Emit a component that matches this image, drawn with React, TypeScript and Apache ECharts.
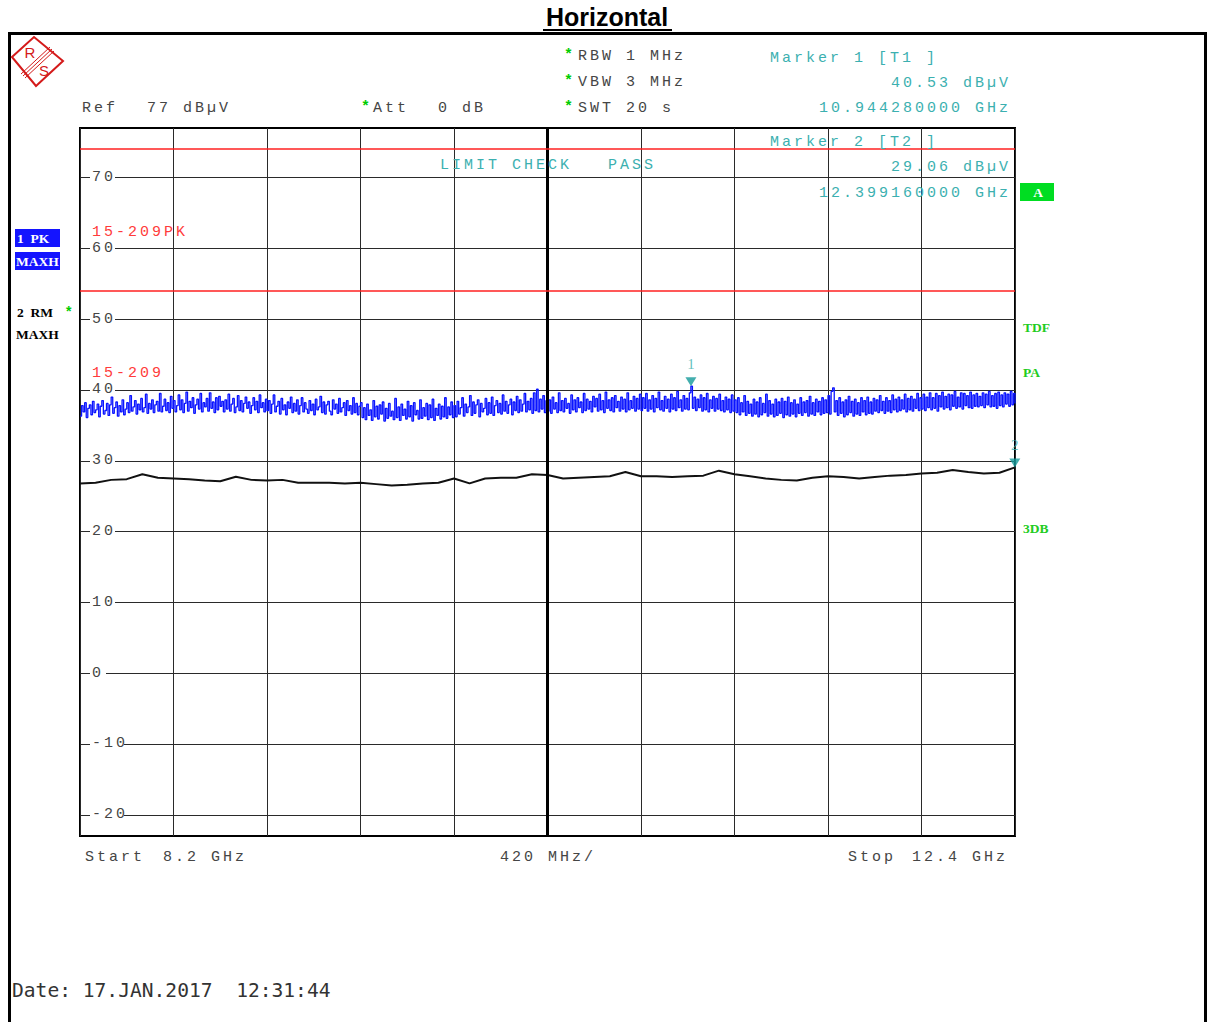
import React, { useEffect, useRef } from "react";
import * as echarts from "echarts";

// ---- data ----
const START_GHZ = 8.2;
const STOP_GHZ = 12.4;
const Y_MIN = -23; // bottom of screen (Ref 77 dBµV, 10 dB/div)
const Y_MAX = 77;
const yTickValues = [70, 60, 50, 40, 30, 20, 10, 0, -10, -20];
const xGridValues = [8.2, 8.62, 9.04, 9.46, 9.88, 10.3, 10.72, 11.14, 11.56, 11.98, 12.4];
const centerFreq = 10.3;
const limitPK = 74; // 15-209PK
const limitAV = 54; // 15-209

// trace 1 (PK, MAXH) - sweep points, per division
const t1Div0 = [36.3, 37.8, 36.9, 38.2, 36.1, 37.4, 37.9, 36.5, 38.4, 36.8, 37.2, 38.0, 36.2, 37.7, 38.5, 36.6, 37.1, 38.1, 36.4, 37.9, 39.0, 36.7, 37.5, 38.3, 36.3, 37.8, 36.9, 38.6, 36.5, 37.3,
  38.2, 36.8, 39.2, 37.0, 37.6, 38.5, 36.6, 38.0, 37.2, 38.8, 36.9, 37.5, 39.4, 36.7, 38.1, 37.3, 38.6, 36.8, 37.9, 38.4, 37.0, 39.5, 36.9, 37.7, 38.7, 37.1, 38.2, 36.8, 39.1, 37.4];
const t1Div1 = [38.5, 36.9, 37.8, 39.3, 37.2, 38.6, 36.8, 38.1, 39.7, 37.0, 38.4, 37.5, 38.9, 36.7, 37.9, 38.7, 37.3, 39.5, 36.9, 38.2, 37.6, 38.8, 37.0, 39.6, 37.4, 38.3, 36.8, 38.9, 37.2, 39.1,
  37.7, 38.4, 36.9, 38.6, 37.3, 39.4, 37.0, 38.0, 38.8, 36.8, 37.6, 39.2, 37.1, 38.5, 36.9, 38.1, 39.0, 37.4, 38.3, 36.7, 37.8, 38.9, 37.2, 38.4, 36.8, 39.3, 37.5, 38.2, 36.9, 38.7];
const t1Div2 = [37.1, 38.5, 36.7, 38.0, 39.3, 36.9, 37.7, 38.4, 36.6, 38.8, 37.2, 37.9, 36.5, 38.3, 37.4, 39.0, 36.8, 38.1, 37.0, 38.6, 36.6, 37.8, 38.9, 36.9, 38.2, 37.3, 36.7, 38.5, 37.1, 38.0,
  36.5, 38.7, 37.2, 37.6, 39.1, 36.8, 38.3, 36.6, 37.9, 38.4, 37.0, 36.5, 38.6, 37.3, 38.0, 36.7, 38.8, 36.9, 37.5, 38.2, 36.4, 38.5, 37.1, 37.8, 36.6, 38.9, 36.8, 38.1, 36.5, 37.7];
const t1Div3 = [38.2, 36.1, 37.5, 35.8, 38.0, 36.4, 37.2, 35.7, 38.5, 36.2, 37.7, 35.9, 37.9, 36.6, 38.3, 35.6, 37.4, 36.0, 38.1, 36.3, 37.0, 35.8, 38.8, 36.1, 37.6, 35.7, 38.0, 36.4, 37.3, 35.9,
  38.4, 36.2, 37.8, 35.6, 38.2, 36.5, 37.1, 35.9, 38.6, 36.0, 37.5, 36.3, 38.1, 35.8, 37.9, 36.1, 38.7, 35.7, 37.4, 36.4, 38.0, 35.9, 37.7, 36.2, 38.9, 36.0, 37.6, 36.5, 38.3, 36.1];
const t1Div4 = [37.8, 36.2, 38.4, 36.6, 37.5, 38.9, 36.3, 38.0, 36.8, 37.6, 39.2, 36.4, 38.3, 36.7, 37.9, 38.6, 36.2, 38.1, 36.9, 37.4, 38.8, 36.5, 38.2, 36.7, 39.0, 36.4, 37.8, 38.5, 36.8, 38.1,
  36.6, 39.3, 37.0, 38.4, 36.7, 37.9, 38.7, 36.5, 38.3, 37.1, 39.1, 36.8, 38.6, 37.0, 38.0, 39.5, 36.9, 38.4, 37.2, 38.8, 36.7, 39.6, 37.1, 40.1, 36.9, 38.7, 37.3, 39.2, 36.8, 38.5];
const t1Div5 = [37.0, 38.6, 36.7, 39.0, 37.3, 38.2, 36.8, 39.6, 37.1, 38.5, 36.9, 38.8, 37.4, 38.1, 36.7, 39.3, 37.2, 38.6, 36.9, 38.9, 37.5, 38.3, 36.8, 39.5, 37.1, 38.7, 37.3, 38.4, 36.9, 39.1,
  37.6, 38.8, 37.0, 39.4, 37.2, 38.5, 36.8, 39.7, 37.4, 38.6, 37.1, 38.9, 36.9, 39.2, 37.5, 38.4, 37.0, 39.0, 37.3, 38.7, 36.9, 39.6, 37.2, 38.5, 37.4, 39.1, 37.0, 38.8, 37.3, 39.4];
const t1Div6 = [37.1, 38.9, 37.4, 39.5, 37.0, 38.6, 37.3, 39.2, 36.9, 38.8, 37.5, 39.7, 37.2, 38.5, 37.0, 39.1, 37.4, 38.7, 36.9, 39.4, 37.3, 38.9, 37.1, 39.8, 37.5, 38.6, 37.0, 39.2, 37.3, 38.8,
  37.2, 39.6, 40.53, 37.4, 39.0, 37.1, 38.7, 37.5, 39.3, 37.0, 38.9, 37.2, 39.5, 36.9, 38.6, 37.4, 39.1, 37.0, 38.8, 37.3, 39.4, 37.1, 38.5, 36.9, 39.0, 37.2, 38.7, 36.8, 39.3, 37.0];
const t1Div7 = [38.6, 36.8, 38.9, 36.5, 38.2, 36.9, 39.2, 36.4, 38.4, 36.7, 38.0, 36.3, 38.7, 36.6, 38.3, 36.2, 38.9, 36.5, 38.1, 36.8, 39.4, 36.3, 38.5, 36.6, 38.0, 36.2, 38.7, 36.4, 38.3, 36.7,
  38.8, 36.1, 38.4, 36.5, 39.0, 36.3, 38.2, 36.6, 38.6, 36.2, 38.0, 36.7, 38.9, 36.4, 38.3, 36.8, 38.5, 36.3, 39.1, 36.6, 38.2, 36.4, 38.7, 36.9, 38.4, 36.5, 38.9, 36.7, 38.6, 36.8];
const t1Div8 = [39.2, 36.6, 39.8, 40.3, 36.9, 38.5, 36.4, 38.9, 36.7, 38.3, 36.2, 38.6, 36.5, 39.1, 36.8, 38.4, 36.3, 38.7, 36.6, 38.2, 36.4, 38.9, 36.9, 38.5, 36.5, 39.0, 36.7, 38.3, 36.6, 38.8,
  37.0, 38.6, 36.8, 39.2, 37.1, 38.4, 36.7, 38.9, 37.0, 38.5, 36.8, 39.3, 37.2, 38.7, 36.9, 39.0, 37.1, 38.6, 37.3, 39.4, 36.9, 38.8, 37.2, 39.1, 37.0, 38.7, 37.4, 39.5, 37.1, 38.9];
const t1Div9 = [37.3, 39.4, 37.1, 39.0, 37.5, 39.6, 37.2, 38.9, 37.4, 39.5, 37.0, 39.2, 37.6, 39.7, 37.3, 39.1, 37.5, 39.4, 37.2, 39.3, 37.7, 39.8, 37.4, 39.0, 37.6, 39.6, 37.3, 39.5, 37.8, 39.2,
  37.5, 39.7, 37.4, 39.3, 37.7, 39.5, 37.6, 39.1, 37.8, 39.6, 37.5, 39.4, 37.9, 39.8, 37.6, 39.2, 37.7, 39.5, 37.4, 39.7, 37.8, 39.3, 37.6, 39.6, 38.0, 39.4, 37.7, 39.8, 37.9, 39.5, 38.1];

// trace 2 (RM, MAXH)
const trace2Values = [
  26.8, 26.9, 27.3, 27.4, 28.1, 27.6, 27.5, 27.4, 27.2, 27.1,
  27.75, 27.3, 27.2, 27.3, 26.9, 26.9, 26.9, 26.8, 26.9, 26.7,
  26.5, 26.6, 26.8, 26.9, 27.5, 26.8, 27.5, 27.6, 27.6, 28.1,
  28.0, 27.5, 27.6, 27.7, 27.8, 28.4, 27.8, 27.8, 27.7, 27.8,
  27.9, 28.6, 28.1, 27.8, 27.5, 27.3, 27.2, 27.6, 27.8, 27.7,
  27.5, 27.7, 27.9, 28.0, 28.2, 28.3, 28.7, 28.4, 28.2, 28.3,
  29.06,
];

const markerNames = ["1", "2"];
const markerFreqs = [10.94428, 12.39916];
const markerLevels = [40.53, 29.06];

// ---- styling constants ----
const MONO = "Liberation Mono";
const GREY = "#454545";
const TEAL = "#3cb0b0";
const GREEN = "#00cc00";
const RED = "#ff3b3b";

const trace1Values = [
  ...t1Div0, ...t1Div1, ...t1Div2, ...t1Div3, ...t1Div4,
  ...t1Div5, ...t1Div6, ...t1Div7, ...t1Div8, ...t1Div9,
];

function sweep(values: number[]) {
  const step = (STOP_GHZ - START_GHZ) / (values.length - 1);
  return values.map((v, i) => [START_GHZ + i * step, v]);
}

function txt(x: number, y: number, text: string, fill: string, extra: any = {}) {
  return {
    type: "text",
    x,
    y,
    silent: true,
    z: 10,
    style: {
      text,
      fill,
      fontFamily: MONO,
      fontSize: 15,
      lineHeight: 12,
      textAlign: "left",
      textVerticalAlign: "middle",
      ...extra,
    },
  };
}

const boldSerif = { fontFamily: "Liberation Serif", fontWeight: "bold", fontSize: 13.5 };

const graphics: any[] = [
  // outer frame
  {
    type: "rect",
    silent: true,
    shape: { x: 9.5, y: 33.5, width: 1196, height: 1010 },
    style: { fill: "none", stroke: "#000", lineWidth: 3 },
  },
  // title
  {
    type: "text",
    x: 607,
    y: 17,
    silent: true,
    style: {
      text: "Horizontal",
      fill: "#000",
      fontFamily: "Liberation Sans",
      fontWeight: "bold",
      fontSize: 25,
      textAlign: "center",
      textVerticalAlign: "middle",
    },
  },
  {
    type: "line",
    silent: true,
    shape: { x1: 543, y1: 30, x2: 672, y2: 30 },
    style: { stroke: "#000", lineWidth: 2 },
  },
  // R&S logo
  {
    type: "polygon",
    silent: true,
    shape: { points: [[12, 57], [34, 37], [63, 61], [36, 86]] },
    style: { fill: "none", stroke: "#d41a1a", lineWidth: 2 },
  },
  {
    type: "line",
    silent: true,
    shape: { x1: 21, y1: 74, x2: 50, y2: 47 },
    style: { stroke: "#d41a1a", lineWidth: 1 },
  },
  {
    type: "line",
    silent: true,
    shape: { x1: 23, y1: 76, x2: 52, y2: 49 },
    style: { stroke: "#d41a1a", lineWidth: 1 },
  },
  {
    type: "line",
    silent: true,
    shape: { x1: 25, y1: 78, x2: 54, y2: 51 },
    style: { stroke: "#d41a1a", lineWidth: 1 },
  },
  {
    type: "text", x: 30, y: 52, silent: true,
    style: { text: "R", fill: "#d41a1a", fontFamily: "Liberation Sans", fontSize: 15, textAlign: "center", textVerticalAlign: "middle" },
  },
  {
    type: "text", x: 44, y: 70, silent: true,
    style: { text: "S", fill: "#d41a1a", fontFamily: "Liberation Sans", fontSize: 15, textAlign: "center", textVerticalAlign: "middle" },
  },
  // header settings
  txt(82, 108, "Ref", GREY),
  txt(147, 108, "77 dBµV", GREY),
  txt(361, 107, "*", GREEN, { fontWeight: "bold" }),
  txt(373, 108, "Att", GREY),
  txt(438, 108, "0 dB", GREY),
  txt(564, 55, "*", GREEN, { fontWeight: "bold" }),
  txt(578, 56, "RBW 1 MHz", GREY),
  txt(564, 81, "*", GREEN, { fontWeight: "bold" }),
  txt(578, 82, "VBW 3 MHz", GREY),
  txt(564, 107, "*", GREEN, { fontWeight: "bold" }),
  txt(578, 108, "SWT 20 s", GREY),
  // marker info
  txt(770, 58, "Marker 1 [T1 ]", TEAL),
  txt(891, 83, "40.53 dBµV", TEAL),
  txt(819, 108, "10.944280000 GHz", TEAL),
  txt(770, 142, "Marker 2 [T2 ]", TEAL),
  txt(891, 167, "29.06 dBµV", TEAL),
  txt(819, 193, "12.399160000 GHz", TEAL),
  txt(440, 165, "LIMIT CHECK   PASS", TEAL),
  // limit labels
  txt(92, 232, "15-209PK", RED),
  txt(92, 373, "15-209", RED),
  // right side annotations
  { type: "rect", silent: true, shape: { x: 1020, y: 183, width: 34, height: 18 }, style: { fill: "#00dd22" } },
  { type: "text", x: 1038, y: 192.5, silent: true, z: 10, style: { text: "A", fill: "#fff", ...boldSerif, textAlign: "center", textVerticalAlign: "middle" } },
  { type: "text", x: 1023, y: 327, silent: true, style: { text: "TDF", fill: "#22cc22", ...boldSerif, textAlign: "left", textVerticalAlign: "middle" } },
  { type: "text", x: 1023, y: 372, silent: true, style: { text: "PA", fill: "#22cc22", ...boldSerif, textAlign: "left", textVerticalAlign: "middle" } },
  { type: "text", x: 1023, y: 528, silent: true, style: { text: "3DB", fill: "#22cc22", ...boldSerif, textAlign: "left", textVerticalAlign: "middle" } },
  // left trace labels
  { type: "rect", silent: true, shape: { x: 15, y: 229, width: 45, height: 18 }, style: { fill: "#1414ff" } },
  { type: "text", x: 17, y: 238.5, silent: true, style: { text: "1  PK", fill: "#fff", ...boldSerif, textAlign: "left", textVerticalAlign: "middle" } },
  { type: "rect", silent: true, shape: { x: 15, y: 252, width: 45, height: 18 }, style: { fill: "#1414ff" } },
  { type: "text", x: 16, y: 261.5, silent: true, style: { text: "MAXH", fill: "#fff", ...boldSerif, textAlign: "left", textVerticalAlign: "middle" } },
  { type: "text", x: 17, y: 312, silent: true, style: { text: "2  RM", fill: "#000", ...boldSerif, textAlign: "left", textVerticalAlign: "middle" } },
  { type: "text", x: 66, y: 311, silent: true, style: { text: "*", fill: GREEN, fontFamily: "Liberation Sans", fontWeight: "bold", fontSize: 14, textAlign: "left", textVerticalAlign: "middle" } },
  { type: "text", x: 16, y: 334, silent: true, style: { text: "MAXH", fill: "#000", ...boldSerif, textAlign: "left", textVerticalAlign: "middle" } },
  // footer
  txt(85, 857, "Start", GREY),
  txt(163, 857, "8.2 GHz", GREY),
  txt(500, 857, "420 MHz/", GREY),
  txt(848, 857, "Stop", GREY),
  txt(912, 857, "12.4 GHz", GREY),
  {
    type: "text", x: 12, y: 990, silent: true,
    style: { text: "Date: 17.JAN.2017  12:31:44", fill: "#333", fontFamily: "DejaVu Sans Mono", fontSize: 19.6, textAlign: "left", textVerticalAlign: "middle" },
  },
];

const option: any = {
  animation: false,
  backgroundColor: "#fff",
  grid: {
    left: 80,
    top: 128,
    width: 935,
    height: 708,
    show: true,
    borderColor: "#000",
    borderWidth: 2,
    backgroundColor: "transparent",
  },
  xAxis: {
    type: "value",
    min: START_GHZ,
    max: STOP_GHZ,
    axisLine: { show: false },
    axisTick: { show: false, customValues: xGridValues },
    axisLabel: { show: false, customValues: xGridValues },
    splitLine: { show: true, lineStyle: { color: "#2a2a2a", width: 1 } },
  },
  yAxis: {
    type: "value",
    min: Y_MIN,
    max: Y_MAX,
    axisLine: { show: false },
    axisTick: { show: false, customValues: yTickValues },
    axisLabel: {
      show: true,
      inside: true,
      customValues: yTickValues,
      margin: 10,
      color: GREY,
      fontFamily: MONO,
      fontSize: 15,
      lineHeight: 12,
      backgroundColor: "#fff",
      padding: [0, 5, 0, 2],
    },
    splitLine: { show: true, lineStyle: { color: "#2a2a2a", width: 1 } },
  },
  series: [
    {
      type: "line",
      name: "2 RM",
      data: sweep(trace2Values),
      symbol: "none",
      lineStyle: { color: "#111", width: 2 },
      z: 3,
      markLine: {
        silent: true,
        symbol: ["none", "none"],
        label: { show: false },
        data: [
          { xAxis: centerFreq, lineStyle: { color: "#000", width: 3, type: "solid" } },
          { yAxis: limitPK, lineStyle: { color: "#ff2020", width: 1.5, type: "solid" } },
          { yAxis: limitAV, lineStyle: { color: "#ff2020", width: 1.5, type: "solid" } },
        ],
      },
    },
    {
      type: "line",
      name: "1 PK",
      data: sweep(trace1Values),
      symbol: "none",
      step: "end",
      lineStyle: { color: "#0a14ff", width: 1.3 },
      z: 4,
    },
    {
      type: "scatter",
      name: "markers",
      data: markerNames.map((n, i) => ({ name: n, value: [markerFreqs[i], markerLevels[i]] })),
      symbol: "triangle",
      symbolRotate: 180,
      symbolSize: [11, 9],
      symbolOffset: [0, -4.5],
      itemStyle: { color: "#149a9a" },
      label: {
        show: true,
        position: "top",
        distance: 6,
        formatter: (p: any) => p.name,
        color: TEAL,
        fontFamily: "Liberation Serif",
        fontSize: 15,
      },
      z: 6,
    },
  ],
  graphic: graphics,
};

export default function App() {
  const ref = useRef<HTMLDivElement>(null);
  useEffect(() => {
    document.body.style.margin = "0";
    const chart = echarts.init(ref.current!, null, { renderer: "svg" });
    chart.setOption(option);
    return () => chart.dispose();
  }, []);
  return (
    <>
      <style>{`text[style*="Liberation Mono"]{letter-spacing:3px}`}</style>
      <div ref={ref} style={{ width: 1208, height: 1022 }} />
    </>
  );
}
